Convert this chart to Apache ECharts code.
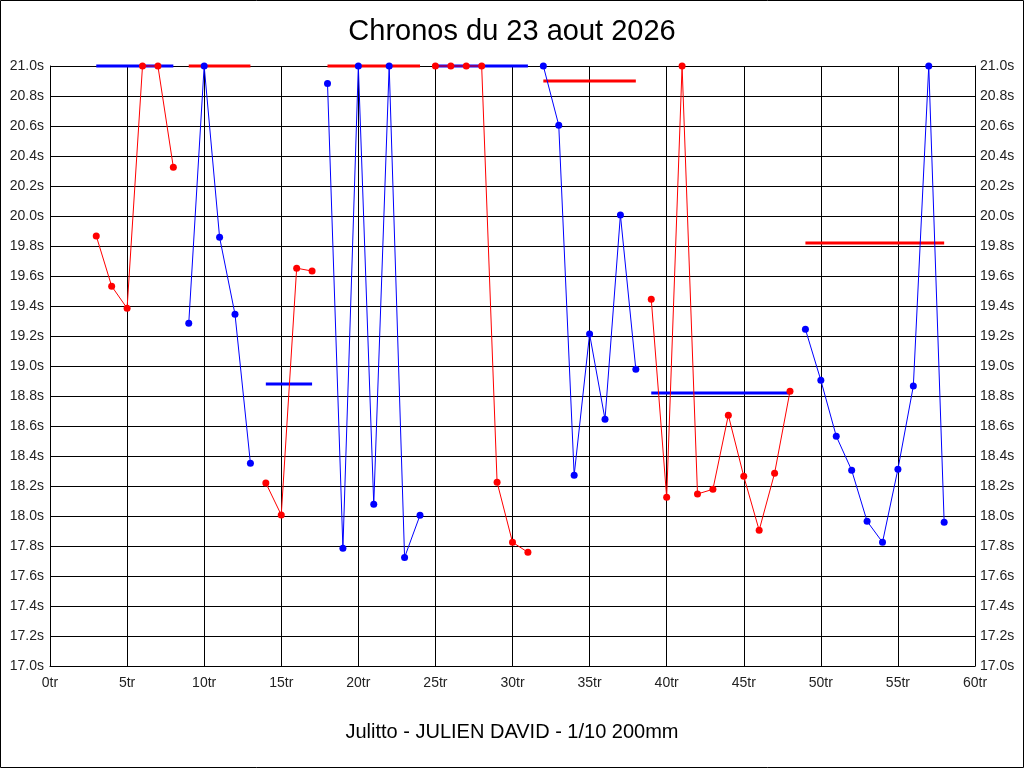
<!DOCTYPE html>
<html>
<head>
<meta charset="utf-8">
<script src="https://cdn.jsdelivr.net/npm/echarts@6/dist/echarts.min.js"></script>
<style>
html,body{margin:0;padding:0;background:#fff;}
#c{width:1024px;height:768px;}
</style>
</head>
<body>
<div id="c"></div>
<script>
// Lap numbers (tr) and lap times (s)
const laps = [3,4,5,6,7,8, 9,10,11,12,13, 14,15,16,17, 18,19,20,21,22,23,24,
  25,26,27,28,29,30,31, 32,33,34,35,36,37,38, 39,40,41,42,43,44,45,46,47,48,
  49,50,51,52,53,54,55,56,57,58];
const times = [19.867,19.532,19.385,21.0,21.0,20.325,
  19.285,21.0,19.858,19.345,18.352,
  18.22,18.007,19.652,19.633,
  20.884,17.785,21.0,18.078,21.0,17.724,18.005,
  21.0,21.0,21.0,21.0,18.225,17.825,17.758,
  21.0,20.605,18.272,19.213,18.645,20.007,18.978,
  19.445,18.125,21.0,18.147,18.178,18.672,18.265,17.905,18.285,18.832,
  19.245,18.905,18.532,18.305,17.965,17.825,18.312,18.866,21.0,17.958];
// Runs (stints): first lap, last lap, reference level
const runStart = [3,9,14,18,25,32,39,49];
const runEnd   = [8,13,17,24,31,38,48,58];
const runRef   = [21.0,21.0,18.88,21.0,21.0,20.9,18.82,19.82];
const xTicks = {min:0, max:60, step:5};
const yTicks = {min:17.0, max:21.0, step:0.2};
const titleText = 'Chronos du 23 aout 2026';
const subText = 'Julitto - JULIEN DAVID - 1/10 200mm';

const RED = '#ff0000', BLUE = '#0000ff';
const series = [];
runStart.forEach((s, i) => {
  const refColor = i % 2 === 0 ? BLUE : RED;
  series.push({
    type:'line', z:2, silent:true, symbol:'none', clip:false,
    lineStyle:{color:refColor, width:3},
    data:[[s, runRef[i]],[runEnd[i], runRef[i]]]
  });
});
runStart.forEach((s, i) => {
  const runColor = i % 2 === 0 ? RED : BLUE;
  const pts = [];
  laps.forEach((l, k) => { if (l >= s && l <= runEnd[i]) pts.push([l, times[k]]); });
  series.push({
    type:'line', z:3, silent:true, clip:false,
    symbol:'circle', symbolSize:7,
    itemStyle:{color:runColor, borderWidth:0},
    lineStyle:{color:runColor, width:1},
    data:pts
  });
});

const FONT = 'Liberation Sans';
const chart = echarts.init(document.getElementById('c'), null, {renderer:'canvas'});
chart.setOption({
  animation:false,
  backgroundColor:'#fff',
  title:[
    {text:titleText, left:'center', top:17, padding:0,
     textStyle:{fontFamily:FONT, fontSize:29, fontWeight:'normal', color:'#000'}},
    {text:subText, left:'center', top:722, padding:0,
     textStyle:{fontFamily:FONT, fontSize:20, fontWeight:'normal', color:'#000'}}
  ],
  graphic:[{type:'rect', shape:{x:0.5,y:0.5,width:1023,height:767},
    style:{fill:'none', stroke:'#000', lineWidth:1}, silent:true, z:100}],
  grid:{left:50, right:49, top:66, bottom:102},
  xAxis:{
    type:'value', min:xTicks.min, max:xTicks.max, interval:xTicks.step,
    axisLine:{show:true, onZero:false, lineStyle:{color:'#000', width:1}},
    axisTick:{show:false},
    splitLine:{show:true, lineStyle:{color:'#000', width:1}},
    axisLabel:{formatter:v => v + 'tr', fontFamily:FONT, fontSize:14, color:'#222', margin:10}
  },
  yAxis:[{
    type:'value', min:yTicks.min, max:yTicks.max, interval:yTicks.step,
    axisLine:{show:true, lineStyle:{color:'#000', width:1}},
    axisTick:{show:false},
    splitLine:{show:true, lineStyle:{color:'#000', width:1}},
    axisLabel:{formatter:v => v.toFixed(1) + 's', fontFamily:FONT, fontSize:14, color:'#222', margin:6}
  },{
    type:'value', position:'right', min:yTicks.min, max:yTicks.max, interval:yTicks.step,
    axisLine:{show:true, lineStyle:{color:'#000', width:1}},
    axisTick:{show:false},
    splitLine:{show:false},
    axisLabel:{formatter:v => v.toFixed(1) + 's', fontFamily:FONT, fontSize:14, color:'#222', margin:5}
  }],
  series:series
});
</script>
</body>
</html>
